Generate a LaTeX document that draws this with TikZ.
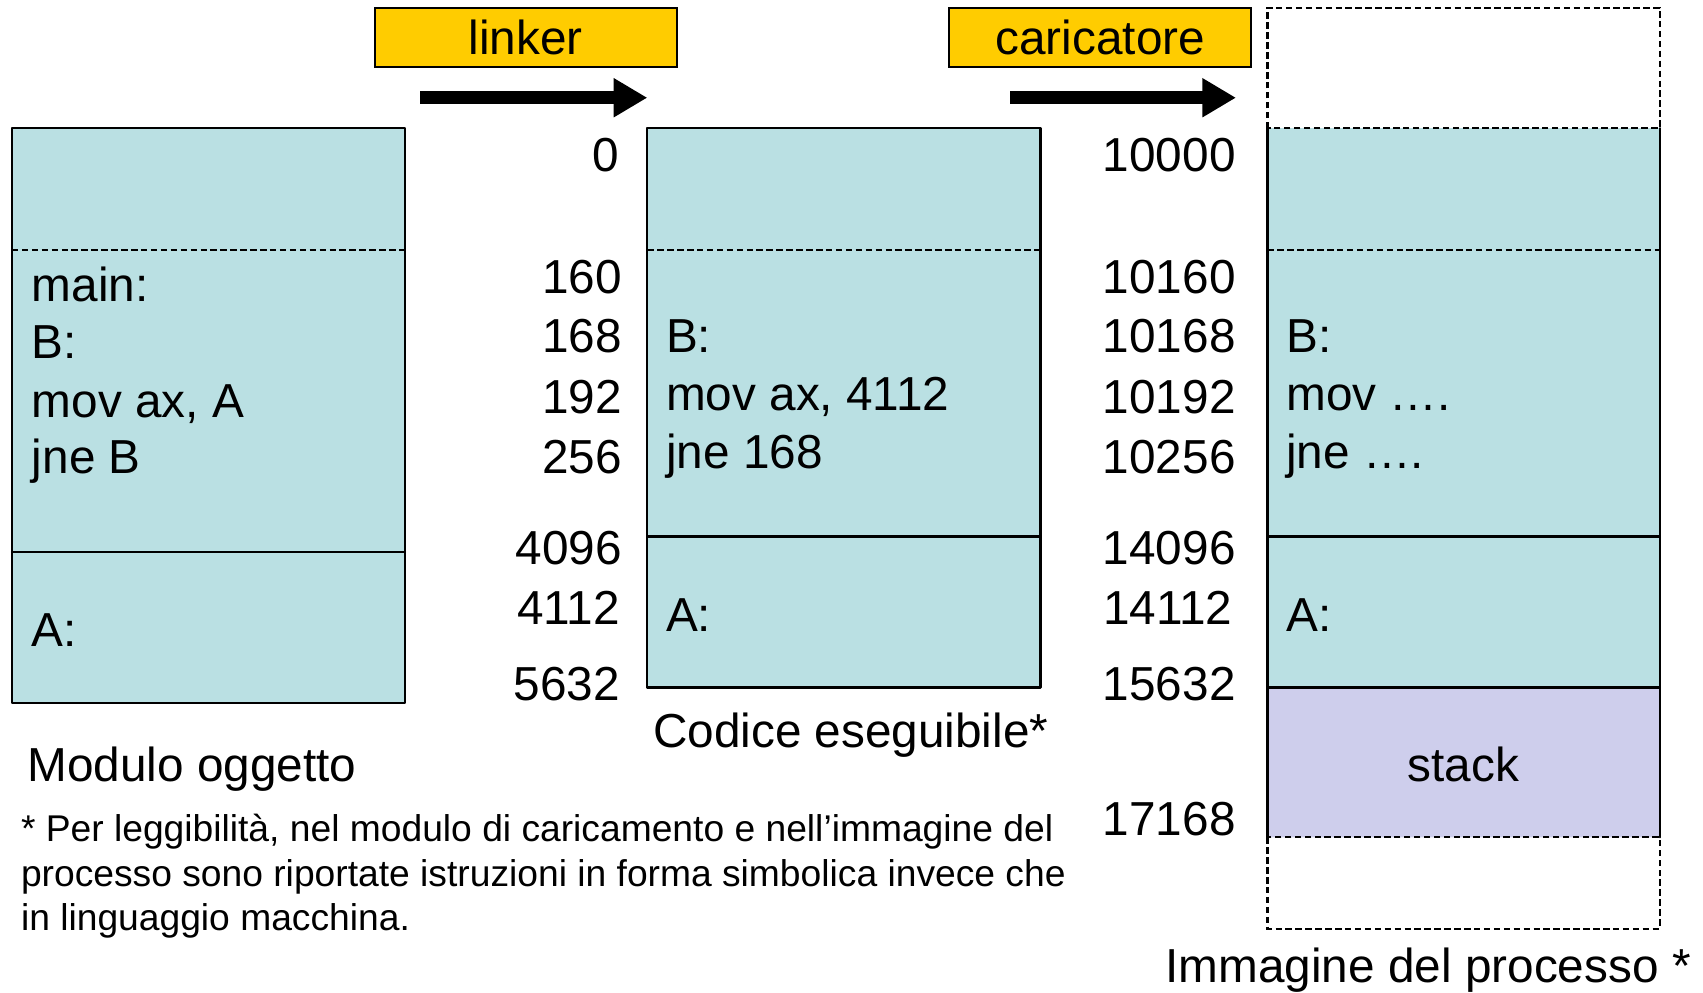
\documentclass[tikz,border=0pt]{standalone}
\usepackage{fontspec}
\setmainfont{Liberation Sans}
\RequirePackage{tikz}
\RequirePackage{tkz-euclide}
\usetikzlibrary{calc}
\usetikzlibrary{arrows.meta}

\definecolor{memcyan}{RGB}{186,224,227}
\definecolor{memstack}{RGB}{206,206,236}
\definecolor{toolyellow}{RGB}{255,204,0}

\tikzset{
  boxline/.style={line width=1.1pt,draw=black},
  cutline/.style={draw=black,solid,line width=1.1pt,dash pattern=on 3.4pt off 1.8pt},
  toolbox/.style={draw=black,line width=1.1pt,fill=toolyellow,minimum width=5.56cm,minimum height=1.10cm,inner sep=0pt,font=\fontsize{25}{30}\selectfont},
  bigarrow/.style={line width=0.24cm,-{Triangle[length=0.62cm,width=0.68cm]}},
  addr/.style={anchor=base east,inner sep=0pt,font=\fontsize{25}{30}\selectfont},
  code/.style={anchor=base west,inner sep=0pt,font=\fontsize{25}{30}\selectfont},
  note/.style={anchor=base west,inner sep=0pt,font=\fontsize{19.5}{23}\selectfont}
}

\begin{document}
\begin{tikzpicture}
                    \useasboundingbox (0,0) rectangle (31.36,18.28);

                    % modulo oggetto
                    \tkzDefPoint(0.22,15.92){L1}
                    \tkzDefPoint(7.46,15.92){L2}
                    \tkzDefPoint(7.46,5.34){L3}
                    \tkzDefPoint(0.22,5.34){L4}
                    \tkzDefPoint(0.22,13.68){Ld1}
                    \tkzDefPoint(7.46,13.68){Ld2}
                    \tkzDefPoint(0.22,8.12){Ls1}
                    \tkzDefPoint(7.46,8.12){Ls2}

                    \tkzDrawPolygon[boxline,fill=memcyan](L1,L2,L3,L4)
                    \draw[cutline] (Ld1) -- (Ld2);
                    \tkzDrawSegment[boxline](Ls1,Ls2)

                    % codice eseguibile
                    \tkzDefPoint(11.92,15.92){M1}
                    \tkzDefPoint(19.16,15.92){M2}
                    \tkzDefPoint(19.16,5.62){M3}
                    \tkzDefPoint(11.92,5.62){M4}
                    \tkzDefPoint(11.92,13.68){Md1}
                    \tkzDefPoint(19.16,13.68){Md2}
                    \tkzDefPoint(11.92,8.40){Ms1}
                    \tkzDefPoint(19.16,8.40){Ms2}

                    \tkzDrawPolygon[boxline,fill=memcyan](M1,M2,M3,M4)
                    \draw[cutline] (Md1) -- (Md2);
                    \tkzDrawSegment[boxline](Ms1,Ms2)

                    % immagine del processo
                    \tkzDefPoint(23.34,18.14){R0}
                    \tkzDefPoint(30.56,18.14){R9}
                    \tkzDefPoint(23.34,15.92){R1}
                    \tkzDefPoint(30.56,15.92){R2}
                    \tkzDefPoint(30.56,5.62){R3}
                    \tkzDefPoint(23.34,5.62){R4}
                    \tkzDefPoint(30.56,2.86){R5}
                    \tkzDefPoint(23.34,2.86){R6}
                    \tkzDefPoint(30.56,1.18){R7}
                    \tkzDefPoint(23.34,1.18){R8}
                    \tkzDefPoint(23.34,13.68){Rd1}
                    \tkzDefPoint(30.56,13.68){Rd2}
                    \tkzDefPoint(23.34,8.40){Rs1}
                    \tkzDefPoint(30.56,8.40){Rs2}

                    \tkzFillPolygon[fill=memcyan](R1,R2,R3,R4)
                    \tkzFillPolygon[fill=memstack](R4,R3,R5,R6)
                    \tkzDrawSegments[boxline](R1,R6 R2,R5 R4,R3 Rs1,Rs2)
                    \draw[cutline] (Rd1) -- (Rd2);
                    \draw[cutline] (R1) -- (R0) -- (R9) -- (R2) -- cycle;
                    \draw[cutline] (R6) -- (R8) -- (R7) -- (R5) -- cycle;

                    % linker e caricatore
                    \node[toolbox] (linker) at (9.68,17.59) {linker};
                    \node[toolbox] (loader) at (20.26,17.59) {caricatore};

                    \coordinate (linkfrom) at (7.74,16.48);
                    \coordinate (linkto) at (11.92,16.48);
                    \coordinate (loadfrom) at (18.60,16.48);
                    \coordinate (loadto) at (22.76,16.48);
                    \draw[bigarrow] (linkfrom) -- (linkto);
                    \draw[bigarrow] (loadfrom) -- (loadto);

                    % indirizzi
                    \node[addr] (a0) at (11.40,15.12) {0};
                    \node[addr] (a160) at (11.46,12.88) {160};
                    \node[addr] (a168) at (11.46,11.78) {168};
                    \node[addr] (a192) at (11.46,10.66) {192};
                    \node[addr] (a256) at (11.46,9.56) {256};
                    \node[addr] (a4096) at (11.46,7.88) {4096};
                    \node[addr] (a4112) at (11.42,6.78) {4112};
                    \node[addr] (a5632) at (11.42,5.38) {5632};

                    \node[addr] (b0) at (22.76,15.12) {10000};
                    \node[addr] (b160) at (22.76,12.88) {10160};
                    \node[addr] (b168) at (22.76,11.78) {10168};
                    \node[addr] (b192) at (22.76,10.66) {10192};
                    \node[addr] (b256) at (22.76,9.56) {10256};
                    \node[addr] (b4096) at (22.76,7.88) {14096};
                    \node[addr] (b4112) at (22.70,6.78) {14112};
                    \node[addr] (b5632) at (22.76,5.38) {15632};
                    \node[addr] (b7168) at (22.76,2.90) {17168};

                    % contenuto
                    \node[code] (lmain) at (0.58,12.72) {main:};
                    \node[code] (lB) at (0.58,11.68) {B:};
                    \node[code] (lmov) at (0.58,10.60) {mov ax, A};
                    \node[code] (ljne) at (0.58,9.56) {jne B};
                    \node[code] (lA) at (0.58,6.38) {A:};

                    \node[code] (mB) at (12.26,11.78) {B:};
                    \node[code] (mmov) at (12.26,10.72) {mov ax, 4112};
                    \node[code] (mjne) at (12.26,9.66) {jne 168};
                    \node[code] (mA) at (12.26,6.66) {A:};

                    \node[code] (rB) at (23.68,11.78) {B:};
                    \node[code] (rmov) at (23.68,10.72) {mov ….};
                    \node[code] (rjne) at (23.68,9.66) {jne ….};
                    \node[code] (rA) at (23.68,6.66) {A:};
                    \node[code,anchor=base] (stack) at (26.95,3.88) {stack};

                    % titoli
                    \node[code] (tobj) at (0.50,3.88) {Modulo oggetto};
                    \node[code] (texe) at (12.02,4.52) {Codice eseguibile*};
                    \node[code,anchor=base east] (timg) at (31.14,0.18) {Immagine del processo *};

                    \node[note] (fn1) at (0.38,2.78) {* Per leggibilità, nel modulo di caricamento e nell’immagine del};
                    \node[note] (fn2) at (0.38,1.96) {processo sono riportate istruzioni in forma simbolica invece che};
                    \node[note] (fn3) at (0.38,1.14) {in linguaggio macchina.};
                \end{tikzpicture}
\end{document}
